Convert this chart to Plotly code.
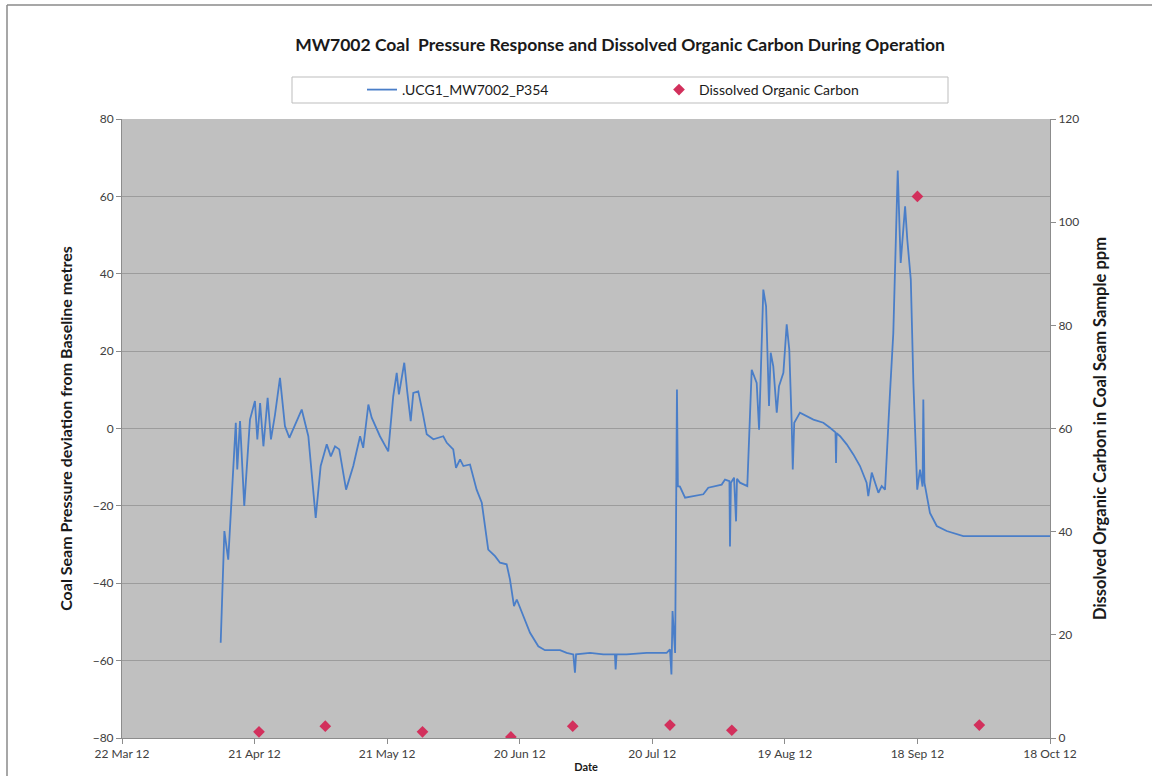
import plotly.graph_objects as go

# Coal seam pressure logger .UCG1_MW7002_P354 (deviation from baseline, metres)
pressure_time = [
    "2012-04-13 08:00", "2012-04-14 04:00", "2012-04-15 01:00", "2012-04-15 20:00",
    "2012-04-16 18:00", "2012-04-17 02:00", "2012-04-17 17:00", "2012-04-18 16:00",
    "2012-04-19 23:00", "2012-04-21 02:00", "2012-04-21 15:00", "2012-04-22 06:00",
    "2012-04-23 00:00", "2012-04-23 23:00", "2012-04-24 17:00", "2012-04-25 15:00",
    "2012-04-26 18:00", "2012-04-27 21:00", "2012-04-28 21:00", "2012-05-01 16:00",
    "2012-05-03 04:00", "2012-05-04 20:00", "2012-05-05 23:00", "2012-05-07 08:00",
    "2012-05-08 06:00", "2012-05-09 05:00", "2012-05-10 04:00", "2012-05-11 17:00",
    "2012-05-13 08:00", "2012-05-14 21:00", "2012-05-15 14:00", "2012-05-16 18:00",
    "2012-05-17 12:00", "2012-05-19 09:00", "2012-05-21 06:00", "2012-05-22 09:00",
    "2012-05-23 04:00", "2012-05-23 16:00", "2012-05-24 07:00", "2012-05-24 21:00",
    "2012-05-25 13:00", "2012-05-26 08:00", "2012-05-26 22:00", "2012-05-28 01:00",
    "2012-05-29 01:00", "2012-05-29 23:00", "2012-05-31 11:00", "2012-06-02 17:00",
    "2012-06-03 12:00", "2012-06-04 23:00", "2012-06-05 14:00", "2012-06-06 12:00",
    "2012-06-07 06:00", "2012-06-08 18:00", "2012-06-10 06:00", "2012-06-11 10:00",
    "2012-06-12 21:00", "2012-06-14 10:00", "2012-06-15 13:00", "2012-06-17 01:00",
    "2012-06-17 19:00", "2012-06-18 17:00", "2012-06-19 08:00", "2012-06-20 19:00",
    "2012-06-22 08:00", "2012-06-24 05:00", "2012-06-25 17:00", "2012-06-29 03:00",
    "2012-06-30 15:00", "2012-07-02 03:00", "2012-07-02 12:00", "2012-07-02 18:00",
    "2012-07-05 22:00", "2012-07-08 22:00", "2012-07-11 13:00", "2012-07-11 17:00",
    "2012-07-11 22:00", "2012-07-14 05:00", "2012-07-18 17:00", "2012-07-23 06:00",
    "2012-07-24 00:00", "2012-07-24 08:00", "2012-07-24 14:00", "2012-07-25 04:00",
    "2012-07-25 14:00", "2012-07-25 19:00", "2012-07-26 06:00", "2012-07-27 10:00",
    "2012-07-31 13:00", "2012-08-01 16:00", "2012-08-04 17:00", "2012-08-05 11:00",
    "2012-08-06 11:00", "2012-08-06 14:00", "2012-08-06 19:00", "2012-08-07 12:00",
    "2012-08-07 23:00", "2012-08-08 04:00", "2012-08-08 20:00", "2012-08-10 12:00",
    "2012-08-11 12:00", "2012-08-12 15:00", "2012-08-13 04:00", "2012-08-14 03:00",
    "2012-08-14 18:00", "2012-08-15 10:00", "2012-08-15 19:00", "2012-08-16 09:00",
    "2012-08-17 04:00", "2012-08-17 16:00", "2012-08-18 16:00", "2012-08-19 10:00",
    "2012-08-20 00:00", "2012-08-20 13:00", "2012-08-20 19:00", "2012-08-21 03:00",
    "2012-08-22 10:00", "2012-08-25 11:00", "2012-08-27 17:00", "2012-08-29 05:00",
    "2012-08-30 11:00", "2012-08-30 14:00", "2012-08-30 17:00", "2012-08-31 12:00",
    "2012-09-02 00:00", "2012-09-03 12:00", "2012-09-05 00:00", "2012-09-06 12:00",
    "2012-09-06 21:00", "2012-09-07 16:00", "2012-09-08 10:00", "2012-09-09 04:00",
    "2012-09-09 22:00", "2012-09-10 16:00", "2012-09-11 19:00", "2012-09-12 13:00",
    "2012-09-13 13:00", "2012-09-14 05:00", "2012-09-15 05:00", "2012-09-15 17:00",
    "2012-09-16 12:00", "2012-09-17 02:00", "2012-09-17 23:00", "2012-09-18 14:00",
    "2012-09-19 04:00", "2012-09-19 08:00", "2012-09-19 14:00", "2012-09-20 20:00",
    "2012-09-22 09:00", "2012-09-24 15:00", "2012-09-28 09:00", "2012-10-18 00:00",
]
pressure_m = [
    -55.4, -26.5, -33.9, -18.3,
    1.5, -10.6, 1.9, -20.0,
    2.3, 7.1, -2.8, 6.6,
    -4.6, 7.9, -2.8, 3.6,
    13.1, 0.6, -2.4, 4.9,
    -2.0, -23.1, -9.7, -4.1,
    -7.2, -4.6, -5.4, -15.8,
    -9.7, -2.0, -5.0, 6.2,
    2.8, -2.0, -5.9, 8.3,
    14.4, 8.8, 12.7, 17.0,
    9.6, 1.9, 9.2, 9.6,
    4.1, -1.5, -2.8, -2.0,
    -3.7, -5.4, -10.2, -8.0,
    -9.7, -9.3, -15.8, -19.2,
    -31.3, -33.0, -34.7, -35.1,
    -39.0, -45.9, -44.2, -48.5,
    -52.8, -56.3, -57.3, -57.3,
    -58.0, -58.4, -63.1, -58.4,
    -58.0, -58.4, -58.4, -62.3,
    -58.4, -58.4, -58.0, -58.0,
    -57.1, -63.6, -47.2, -58.0,
    10.1, -14.9, -15.0, -17.9,
    -17.0, -15.3, -14.5, -13.2,
    -13.6, -30.5, -14.0, -12.7,
    -24.0, -13.0, -14.0, -14.9,
    15.2, 11.8, -0.3, 35.9,
    31.6, 5.8, 19.6, 16.1,
    4.1, 10.9, 14.4, 26.9,
    20.4, 1.5, -10.6, 1.5,
    4.1, 2.3, 1.5, 0.2,
    -1.0, -8.9, -1.2, -2.0,
    -4.1, -6.7, -9.7, -14.0,
    -17.5, -11.4, -14.0, -16.6,
    -14.9, -15.8, 9.2, 24.7,
    66.7, 42.8, 57.4, 48.8,
    38.5, 11.8, -15.8, -10.6,
    -15.0, 7.5, -14.0, -21.8,
    -25.2, -26.5, -27.8, -27.8,
]

# Dissolved organic carbon in coal seam samples (ppm)
doc_date = [
    "2012-04-22", "2012-05-07", "2012-05-29", "2012-06-18", "2012-07-02",
    "2012-07-24", "2012-08-07", "2012-09-18", "2012-10-02",
]
doc_ppm = [1.2, 2.3, 1.2, 0.2, 2.3, 2.5, 1.5, 105.0, 2.5]

# Date axis ticks every 30 days
tick_dates = [
    "2012-03-22", "2012-04-21", "2012-05-21", "2012-06-20",
    "2012-07-20", "2012-08-19", "2012-09-18", "2012-10-18",
]
tick_labels = [
    "22 Mar 12", "21 Apr 12", "21 May 12", "20 Jun 12",
    "20 Jul 12", "19 Aug 12", "18 Sep 12", "18 Oct 12",
]

FONT = "Lato, 'Open Sans', sans-serif"
W, H = 1152, 776
L, R, T, B = 122, 102, 119, 38
PW, PH = W - L - R, H - T - B


def px_x(px):
    return (px - L) / PW


def px_y(py):
    return (H - B - py) / PH


fig = go.Figure()

fig.add_trace(go.Scatter(
    x=pressure_time, y=pressure_m,
    name=".UCG1_MW7002_P354",
    mode="lines",
    line=dict(color="#4A7EC8", width=1.8),
    yaxis="y",
))

fig.add_trace(go.Scatter(
    x=doc_date, y=doc_ppm,
    name="Dissolved Organic Carbon",
    mode="markers",
    marker=dict(symbol="diamond", size=9, color="#D2305C"),
    yaxis="y2",
))

axis_font = dict(family=FONT, size=12, color="#404040")
title_font = dict(family=FONT, size=16, color="#1a1a1a")

fig.update_layout(
    width=W, height=H,
    margin=dict(l=L, r=R, t=T, b=B),
    paper_bgcolor="white",
    plot_bgcolor="#C0C0C0",
    font=dict(family=FONT),
    showlegend=True,
    title=dict(
        text="<b>MW7002 Coal  Pressure Response and Dissolved Organic Carbon During Operation</b>",
        x=620 / W, xanchor="center",
        y=1 - 45 / H, yanchor="middle",
        font=dict(family=FONT, size=17.5, color="#1a1a1a"),
    ),
    legend=dict(
        orientation="h",
        x=px_x(362), xanchor="left",
        y=px_y(90), yanchor="middle",
        bgcolor="rgba(0,0,0,0)",
        borderwidth=0,
        entrywidth=252, entrywidthmode="pixels",
        font=dict(family=FONT, size=14, color="#1a1a1a"),
        itemclick=False,
    ),
    xaxis=dict(
        type="date",
        range=["2012-03-22", "2012-10-18"],
        tickvals=tick_dates,
        ticktext=tick_labels,
        tickangle=0,
        ticks="outside", ticklen=5, tickcolor="#8c8c8c",
        showgrid=False, zeroline=False,
        showline=True, linecolor="#8c8c8c", linewidth=1,
        tickfont=axis_font,
        title=dict(text="<b>Date</b>", font=dict(family=FONT, size=11, color="#1a1a1a"), standoff=2),
        automargin=False,
    ),
    yaxis=dict(
        range=[-80, 80],
        dtick=20, tick0=-80,
        ticks="outside", ticklen=5, tickcolor="#8c8c8c",
        showgrid=True, gridcolor="#9C9C9C", gridwidth=1,
        zeroline=False,
        showline=True, linecolor="#8c8c8c", linewidth=1,
        tickfont=axis_font,
        title=dict(text="<b>Coal Seam Pressure deviation from Baseline metres</b>",
                   font=title_font, standoff=16),
        automargin=False,
    ),
    yaxis2=dict(
        range=[0, 120],
        dtick=20, tick0=0,
        overlaying="y", side="right",
        ticks="outside", ticklen=5, tickcolor="#8c8c8c",
        showgrid=False, zeroline=False,
        showline=True, linecolor="#8c8c8c", linewidth=1,
        tickfont=axis_font,
        title=dict(text="<b>Dissolved Organic Carbon in Coal Seam Sample ppm</b>",
                   font=dict(family=FONT, size=16.5, color="#1a1a1a"), standoff=16),
        automargin=False,
    ),
    shapes=[
        # legend frame
        dict(type="rect", xref="paper", yref="paper",
             x0=px_x(292), x1=px_x(948), y0=px_y(103), y1=px_y(77),
             line=dict(color="#BDBDBD", width=1), fillcolor="rgba(0,0,0,0)", layer="below"),
        # chart frame (top and left edges)
        dict(type="line", xref="paper", yref="paper",
             x0=px_x(7), x1=px_x(W + 5), y0=px_y(5), y1=px_y(5),
             line=dict(color="#8a8a8a", width=1.5)),
        dict(type="line", xref="paper", yref="paper",
             x0=px_x(7), x1=px_x(7), y0=px_y(5), y1=px_y(H + 5),
             line=dict(color="#8a8a8a", width=1.5)),
    ],
)

fig.write_html("out.html")
